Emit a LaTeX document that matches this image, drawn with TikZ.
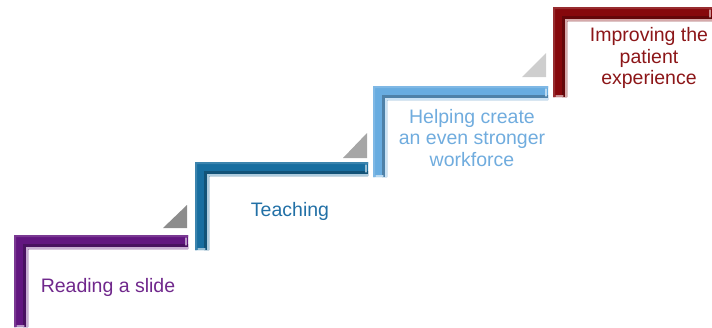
\documentclass[tikz,border=0pt]{standalone}
\usepackage{fontspec}
\setmainfont{Liberation Sans}
\usetikzlibrary{positioning}

\definecolor{stairpurple}{RGB}{98,22,128}
\definecolor{stairblue}{RGB}{24,110,160}
\definecolor{stairsky}{RGB}{104,172,224}
\definecolor{stairred}{RGB}{134,8,12}
\definecolor{txtpurple}{RGB}{112,40,140}
\definecolor{txtblue}{RGB}{34,112,166}
\definecolor{txtsky}{RGB}{112,172,222}
\definecolor{txtred}{RGB}{140,22,24}

\tikzset{
	stairlabel/.style={ font=\fontsize{19.5}{21.5}\selectfont, align=center, inner sep=0pt },
	pointer/.style={ draw=none }
}

\begin{document}
\begin{tikzpicture}[ x=1pt, y=-1pt ]

	\useasboundingbox (0, 0) rectangle (712, 327);

	\def\thick{14}

	% one bevelled stair per entry: left, top, right, bottom, colour
	\foreach \xa/\ya/\xb/\yb/\col in {14/235/188/327/stairpurple, 195/162/368/250/stairblue, 373/86/548/177/stairsky, 553/7/712/97/stairred}{
		\pgfmathsetmacro{\xin}{\xa+\thick}
		\pgfmathsetmacro{\yin}{\ya+\thick}
		\fill[ \col ] (\xa, \yb) -- (\xa, \ya) -- (\xb, \ya) -- (\xb, \yin) -- (\xin, \yin) -- (\xin, \yb) -- cycle;
		\fill[ \col!75!black ] (\xin-5, \yb) -- (\xin-5, \yin-5) -- (\xb, \yin-5) -- (\xb, \yin) -- (\xin, \yin) -- (\xin, \yb) -- cycle;
		\fill[ \col!85!white ] (\xa, \yb) -- (\xa, \ya) -- (\xb, \ya) -- (\xb, \ya+2) -- (\xa+2, \ya+2) -- (\xa+2, \yb) -- cycle;
		\draw[ \col!35!white, line width=1.6pt ] (\xin-0.8, \yb) -- (\xin-0.8, \yin-0.8) -- (\xb, \yin-0.8);
		\draw[ \col!45!white, line width=1.2pt, line cap=round ] (\xb-2, \ya+3) -- (\xb-2, \yin-4);
		\draw[ \col!45!white, line width=1.2pt, line cap=round ] (\xa+3, \yb-1) -- (\xin-4, \yb-1);
	}

	% small grey wedges above the step ends
	\fill[ pointer, fill={rgb,255:red,140;green,140;blue,140} ] (163, 228) -- (187, 228) -- (187, 205) -- cycle;
	\fill[ pointer, fill={rgb,255:red,166;green,166;blue,166} ] (343, 158) -- (367, 158) -- (367, 133) -- cycle;
	\fill[ pointer, fill={rgb,255:red,206;green,206;blue,206} ] (522, 77) -- (546, 77) -- (546, 53) -- cycle;

	\node[ stairlabel, text=txtpurple ] (reading) at (108, 287) {Reading a slide};
	\node[ stairlabel, text=txtblue ] (teaching) at (290, 211) {Teaching};
	\node[ stairlabel, text=txtsky ] (helping) at (472, 138) {Helping create\\an even stronger\\workforce};
	\node[ stairlabel, text=txtred ] (improving) at (649, 58) {Improving the\\patient\\experience};

\end{tikzpicture}
\end{document}
